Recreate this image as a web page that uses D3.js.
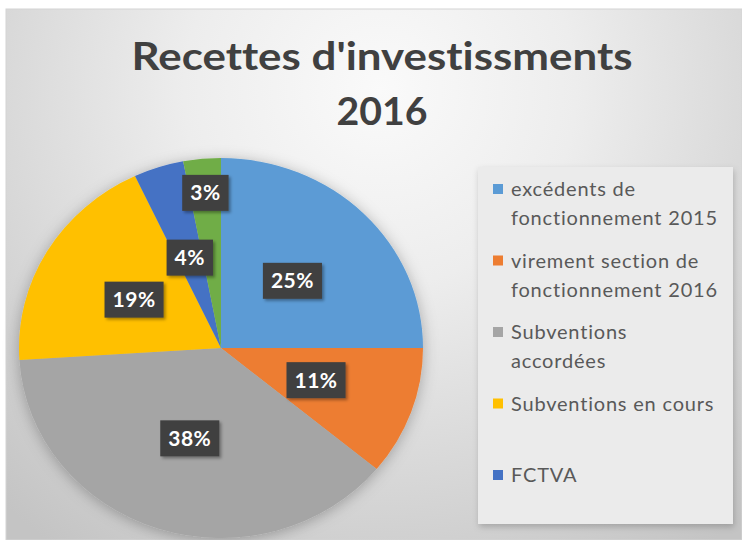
<!DOCTYPE html>
<html>
<head>
<meta charset="utf-8">
<script src="https://cdn.jsdelivr.net/npm/d3@7"></script>
<style>
  html, body { margin: 0; padding: 0; background: #fff; }
  svg { display: block; }
  text { font-variant-ligatures: none; }
</style>
</head>
<body>
<div id="chart"></div>
<script>
// chart data
const titleLines = ["Recettes d'investissments", "2016"];
const categories = [
    "excédents de fonctionnement 2015",
    "virement section de fonctionnement 2016",
    "Subventions accordées",
    "Subventions en cours",
    "FCTVA",
    "Autres"
];
const values = [25, 11, 38, 19, 4, 3];
const colors = ["#5B9BD5", "#ED7D31", "#A5A5A5", "#FFC000", "#4472C4", "#70AD47"];
// legend shows only the first five entries, wrapped like the original
const legendLines = [
    ["excédents de", "fonctionnement 2015"],
    ["virement section de", "fonctionnement 2016"],
    ["Subventions", "accordées"],
    ["Subventions en cours"],
    ["FCTVA"]
];

const W = 742, H = 540;
const FONT = 'Lato, "Open Sans", sans-serif';
const svg = d3.select('#chart').append('svg')
    .attr('width', W)
    .attr('height', H);

const defs = svg.append('defs');

const bg = defs.append('radialGradient')
    .attr('id', 'bgGrad')
    .attr('gradientUnits', 'userSpaceOnUse')
    .attr('cx', 380).attr('cy', 90).attr('r', 560);
bg.append('stop').attr('offset', '0%').attr('stop-color', '#fafafa');
bg.append('stop').attr('offset', '35%').attr('stop-color', '#ededed');
bg.append('stop').attr('offset', '100%').attr('stop-color', '#c4c4c4');

const pieShadow = defs.append('filter').attr('id', 'pieShadow')
    .attr('x', '-20%').attr('y', '-20%').attr('width', '140%').attr('height', '140%');
pieShadow.append('feDropShadow')
    .attr('dx', 0).attr('dy', 2).attr('stdDeviation', 7)
    .attr('flood-color', '#000').attr('flood-opacity', 0.28);

const boxShadow = defs.append('filter').attr('id', 'boxShadow')
    .attr('x', '-30%').attr('y', '-30%').attr('width', '160%').attr('height', '160%');
boxShadow.append('feDropShadow')
    .attr('dx', 2).attr('dy', 2).attr('stdDeviation', 1.5)
    .attr('flood-color', '#000').attr('flood-opacity', 0.35);

const legShadow = defs.append('filter').attr('id', 'legShadow')
    .attr('x', '-10%').attr('y', '-10%').attr('width', '120%').attr('height', '120%');
legShadow.append('feDropShadow')
    .attr('dx', 1).attr('dy', 3).attr('stdDeviation', 3)
    .attr('flood-color', '#000').attr('flood-opacity', 0.2);

// chart area
svg.append('rect')
    .attr('x', 6).attr('y', 9)
    .attr('width', W - 6).attr('height', H - 9)
    .attr('fill', 'url(#bgGrad)')
    .attr('stroke', '#d4d4d4')
    .attr('stroke-width', 1);

// title (narrow bold face in the original, so squeeze to its width)
const titleWidths = [501, 91];
svg.append('g').selectAll('text')
    .data(titleLines)
    .enter()
    .append('text')
    .attr('x', 382)
    .attr('y', (d, i) => 70 + i * 55)
    .attr('text-anchor', 'middle')
    .attr('font-family', FONT)
    .attr('font-weight', 700)
    .attr('font-size', '39px')
    .attr('fill', '#404040')
    .attr('textLength', (d, i) => titleWidths[i])
    .attr('lengthAdjust', 'spacingAndGlyphs')
    .text(d => d);

// pie
const cx = 221, cy = 348, R = 190, sx = 202 / R;
const pie = d3.pie().sort(null).value(d => d);
const arcs = pie(values);
const arc = d3.arc().innerRadius(0).outerRadius(R);

const pieG = svg.append('g')
    .attr('transform', `translate(${cx},${cy}) scale(${sx},1)`)
    .attr('filter', 'url(#pieShadow)');

pieG.selectAll('path')
    .data(arcs)
    .enter()
    .append('path')
    .attr('d', arc)
    .attr('fill', (d, i) => colors[i]);

// data labels
const fmt = d3.format('.0%');
const total = d3.sum(values);
const labelG = svg.append('g');
arcs.forEach((d, i) => {
    const share = d.value / total;
    const rr = share < 0.035 ? 0.82 * R : 0.5 * R;
    const a = (d.startAngle + d.endAngle) / 2;
    const x = cx + Math.sin(a) * rr * sx;
    const y = cy - Math.cos(a) * rr;
    const g = labelG.append('g').attr('transform', `translate(${x},${y})`);
    const t = g.append('text')
        .attr('text-anchor', 'middle')
        .attr('dy', '0.36em')
        .attr('font-family', FONT)
        .attr('font-weight', 700)
        .attr('font-size', '21px')
        .attr('letter-spacing', '0.5px')
        .attr('fill', '#fff')
        .text(fmt(share));
    const w = t.node().getComputedTextLength() + 16;
    g.insert('rect', 'text')
        .attr('x', -w / 2).attr('y', -18)
        .attr('width', w).attr('height', 36)
        .attr('fill', '#404040')
        .attr('filter', 'url(#boxShadow)');
});

// legend
const legG = svg.append('g');
legG.append('rect')
    .attr('x', 478).attr('y', 167)
    .attr('width', 255).attr('height', 357)
    .attr('fill', '#ebebeb')
    .attr('filter', 'url(#legShadow)');

legendLines.forEach((lines, i) => {
    const y0 = 189 + i * 71.5;
    legG.append('rect')
        .attr('x', 493).attr('y', y0 - 5)
        .attr('width', 10).attr('height', 10)
        .attr('fill', colors[i]);
    lines.forEach((ln, j) => {
        legG.append('text')
            .attr('x', 511)
            .attr('y', y0 + j * 29)
            .attr('dy', '0.35em')
            .attr('font-family', FONT)
            .attr('font-size', '20px')
            .attr('letter-spacing', '0.8px')
            .attr('fill', '#595959')
            .text(ln);
    });
});
</script>
</body>
</html>
